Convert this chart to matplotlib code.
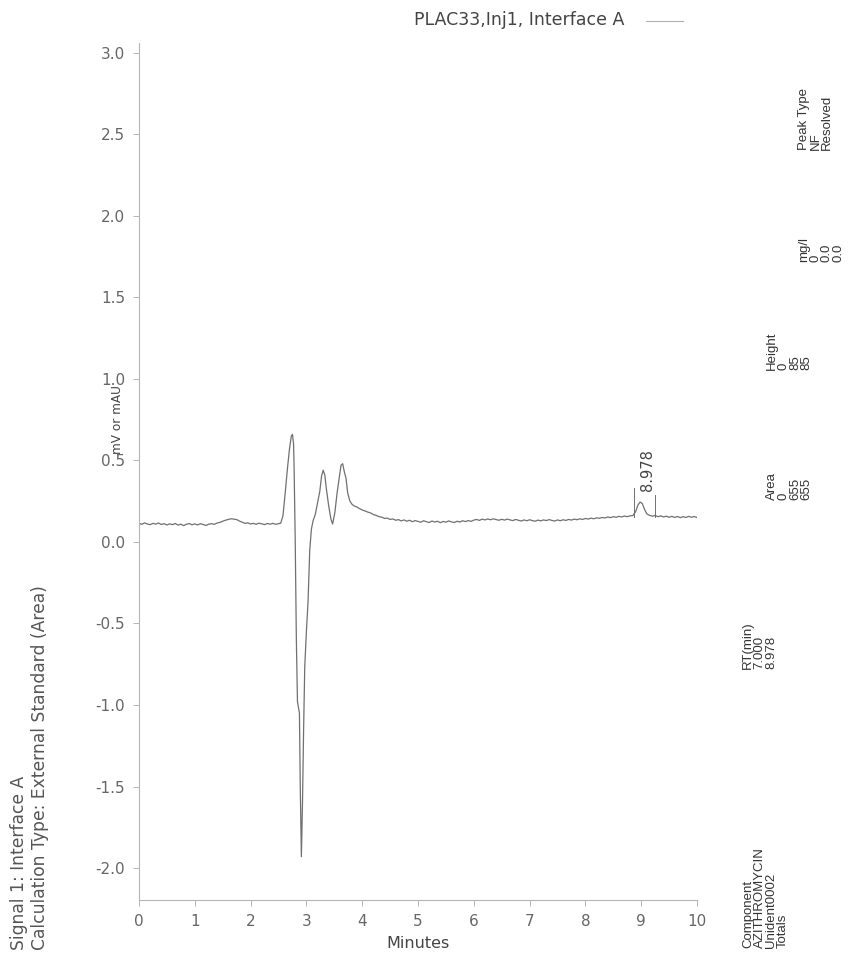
import matplotlib
matplotlib.use("Agg")
import matplotlib.pyplot as plt
from matplotlib import font_manager

plt.rcParams['font.family'] = ['DejaVu Sans']

_names = {f.name for f in font_manager.fontManager.ttflist}
TABLE_FONT = ['Liberation Sans Narrow'] if 'Liberation Sans Narrow' in _names else ['Liberation Sans']

# ---- data ----
time_min = [
    0.00, 0.05, 0.10, 0.15, 0.20, 0.25, 0.30, 0.35, 0.40, 0.45, 0.50, 0.55, 0.60, 0.65, 0.70, 0.75,
    0.80, 0.85, 0.90, 0.95, 1.00, 1.05, 1.10, 1.15, 1.20, 1.25, 1.30, 1.35, 1.40, 1.45, 1.50, 1.55,
    1.60, 1.65, 1.70, 1.75, 1.80, 1.85, 1.90, 1.95, 2.00, 2.05, 2.10, 2.15, 2.20, 2.25, 2.30, 2.35,
    2.40, 2.45, 2.50, 2.54, 2.58, 2.62, 2.66, 2.70, 2.73, 2.75, 2.77, 2.78, 2.80, 2.82, 2.84, 2.86,
    2.875, 2.89, 2.91, 2.93, 2.95, 2.97, 3.00, 3.03, 3.06, 3.09, 3.12, 3.16, 3.20, 3.24, 3.27, 3.30,
    3.33, 3.36, 3.40, 3.44, 3.47, 3.51, 3.55, 3.59, 3.62, 3.65, 3.68, 3.71, 3.74, 3.78, 3.82, 3.86,
    3.90, 3.95, 4.00, 4.05, 4.10, 4.15, 4.20, 4.25, 4.30, 4.35, 4.40, 4.45, 4.50, 4.55, 4.60, 4.65,
    4.70, 4.75, 4.80, 4.85, 4.90, 4.95, 5.00, 5.05, 5.10, 5.15, 5.20, 5.25, 5.30, 5.35, 5.40, 5.45,
    5.50, 5.55, 5.60, 5.65, 5.70, 5.75, 5.80, 5.85, 5.90, 5.95, 6.00, 6.05, 6.10, 6.15, 6.20, 6.25,
    6.30, 6.35, 6.40, 6.45, 6.50, 6.55, 6.60, 6.65, 6.70, 6.75, 6.80, 6.85, 6.90, 6.95, 7.00, 7.05,
    7.10, 7.15, 7.20, 7.25, 7.30, 7.35, 7.40, 7.45, 7.50, 7.55, 7.60, 7.65, 7.70, 7.75, 7.80, 7.85,
    7.90, 7.95, 8.00, 8.05, 8.10, 8.15, 8.20, 8.25, 8.30, 8.35, 8.40, 8.45, 8.50, 8.55, 8.60, 8.65,
    8.70, 8.75, 8.80, 8.85, 8.90, 8.94, 8.98, 9.02, 9.06, 9.10, 9.15, 9.20, 9.25, 9.30, 9.35, 9.40,
    9.45, 9.50, 9.55, 9.60, 9.65, 9.70, 9.75, 9.80, 9.85, 9.90, 9.95, 10.00,
]
signal_mv = [
    0.115, 0.108, 0.117, 0.110, 0.106, 0.114, 0.109, 0.116, 0.107, 0.112, 0.104, 0.111, 0.106, 0.113, 0.103, 0.109,
    0.100, 0.108, 0.113, 0.105, 0.111, 0.104, 0.112, 0.107, 0.101, 0.109, 0.112, 0.108, 0.116, 0.120, 0.127, 0.133,
    0.138, 0.142, 0.140, 0.137, 0.128, 0.121, 0.114, 0.117, 0.110, 0.114, 0.108, 0.115, 0.111, 0.106, 0.113, 0.109,
    0.114, 0.108, 0.112, 0.115, 0.160, 0.300, 0.450, 0.580, 0.650, 0.660, 0.600, 0.450, 0.000, -0.600, -0.980, -1.020,
    -1.050, -1.500, -1.930, -1.600, -1.150, -0.770, -0.550, -0.360, -0.050, 0.080, 0.130, 0.170, 0.240, 0.310, 0.400, 0.440,
    0.410, 0.320, 0.220, 0.140, 0.110, 0.180, 0.300, 0.400, 0.470, 0.480, 0.430, 0.390, 0.300, 0.250, 0.230, 0.220,
    0.215, 0.205, 0.196, 0.190, 0.183, 0.178, 0.168, 0.163, 0.155, 0.152, 0.144, 0.146, 0.138, 0.141, 0.133, 0.137,
    0.129, 0.135, 0.127, 0.133, 0.124, 0.131, 0.126, 0.121, 0.130, 0.124, 0.119, 0.128, 0.122, 0.127, 0.118, 0.126,
    0.121, 0.129, 0.123, 0.119, 0.127, 0.122, 0.130, 0.125, 0.131, 0.126, 0.134, 0.138, 0.132, 0.140, 0.135, 0.141,
    0.136, 0.142, 0.137, 0.133, 0.139, 0.134, 0.140, 0.135, 0.131, 0.138, 0.133, 0.128, 0.135, 0.130, 0.136, 0.131,
    0.127, 0.134, 0.129, 0.135, 0.131, 0.137, 0.132, 0.128, 0.135, 0.130, 0.136, 0.132, 0.138, 0.134, 0.140, 0.136,
    0.142, 0.138, 0.144, 0.140, 0.146, 0.142, 0.148, 0.145, 0.150, 0.147, 0.153, 0.149, 0.155, 0.151, 0.157, 0.153,
    0.159, 0.155, 0.160, 0.162, 0.185, 0.225, 0.245, 0.235, 0.200, 0.172, 0.163, 0.158, 0.162, 0.155, 0.160, 0.153,
    0.158, 0.151, 0.157, 0.150, 0.156, 0.149, 0.155, 0.150, 0.157, 0.151, 0.156, 0.150,
]

peak_label = "8.978"
peak_bounds = [8.87, 9.25]
peak_bound_tops = [0.33, 0.29]
peak_bound_bottoms = [0.15, 0.155]

x_ticks = [0, 1, 2, 3, 4, 5, 6, 7, 8, 9, 10]
y_ticks = [-2.0, -1.5, -1.0, -0.5, 0.0, 0.5, 1.0, 1.5, 2.0, 2.5, 3.0]

title_text = "PLAC33,Inj1, Interface A"
signal_text = "Signal 1: Interface A"
calc_text = "Calculation Type: External Standard (Area)"

tbl_component = ["Component", "AZITHROMYCIN", "Unident0002", "Totals"]
tbl_rt = ["RT(min)", "7.000", "8.978"]
tbl_area = ["Area", "0", "655", "655"]
tbl_height = ["Height", "0", "85", "85"]
tbl_mgl = ["mg/l", "0", "0.0", "0.0"]
tbl_peaktype = ["Peak Type", "NF", "Resolved"]

# ---- figure ----
W, H = 848, 959
fig = plt.figure(figsize=(W / 100, H / 100), dpi=100)
fig.patch.set_facecolor('white')

ax_l, ax_r, ax_t, ax_b = 139, 697, 43, 900
ax = fig.add_axes([ax_l / W, 1 - ax_b / H, (ax_r - ax_l) / W, (ax_b - ax_t) / H])

line_color = '#707070'
ax.plot(time_min, signal_mv, color=line_color, lw=0.9)

for xb, yt, yb in zip(peak_bounds, peak_bound_tops, peak_bound_bottoms):
    ax.plot([xb, xb], [yb, yt], color=line_color, lw=0.7)
ax.text(9.12, 0.31, peak_label, rotation=90, ha='center', va='bottom',
        fontsize=10.5, color='#444444')

ax.set_xlim(0, 10)
ax.set_ylim(-2.196, 3.06)
ax.set_xticks(x_ticks)
ax.set_xticklabels([str(v) for v in x_ticks])
ax.set_yticks(y_ticks)
ax.set_yticklabels([f"{v:.1f}" for v in y_ticks])

for s in ['top', 'right']:
    ax.spines[s].set_visible(False)
for s in ['left', 'bottom']:
    ax.spines[s].set_color('#b5b5b5')
    ax.spines[s].set_linewidth(0.8)
ax.tick_params(axis='both', direction='out', length=4, width=0.7, color='#b5b5b5',
               labelcolor='#666666', labelsize=11, pad=6)

fig.text(418 / W, 1 - 944 / H, "Minutes", ha='center', va='center',
         fontsize=11.5, color='#444444')
fig.text(117 / W, 1 - 420 / H, "mV or mAU", rotation=90, ha='center', va='center',
         fontsize=8.7, color='#444444')

# title + legend sample
fig.text(519 / W, 1 - 20 / H, title_text, ha='center', va='center', fontsize=12.5,
         color='#444444')
fig.add_artist(plt.Line2D([646 / W, 683 / W], [1 - 21 / H, 1 - 21 / H], color='#b0b0b0', lw=0.8))

# left side texts
fig.text(19 / W, 1 - 950 / H, signal_text, rotation=90, ha='center', va='bottom',
         fontsize=12.3, color='#555555')
fig.text(40 / W, 1 - 950 / H, calc_text, rotation=90, ha='center', va='bottom',
         fontsize=12.3, color='#555555')

# rotated results table
d = 11.5
x0 = 748
groups = [
    (tbl_component, x0, 948),
    (tbl_rt, x0, 669),
    (tbl_area, x0 + 24, 500),
    (tbl_height, x0 + 24, 370),
    (tbl_mgl, x0 + 56, 262),
    (tbl_peaktype, x0 + 56, 150),
]
for items, xs, yb in groups:
    for i, s in enumerate(items):
        fig.text((xs + i * d) / W, 1 - yb / H, s, rotation=90, ha='center', va='bottom',
                 fontsize=9.5, color='#333333', family=TABLE_FONT)

fig.savefig("out.png", dpi=100, facecolor='white')
